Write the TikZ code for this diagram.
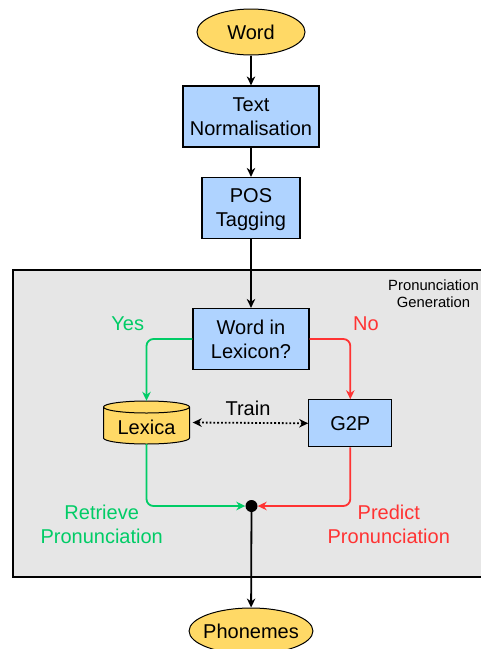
\documentclass[tikz,border=0pt]{standalone}
\usepackage{fontspec}
\setmainfont{Liberation Sans}
\usetikzlibrary{arrows.meta,shapes.geometric}

\definecolor{termfill}{HTML}{FFD966}
\definecolor{boxfill}{HTML}{AFD3FF}
\definecolor{panelfill}{HTML}{E6E6E6}
\definecolor{yesgreen}{HTML}{00CC66}
\definecolor{nored}{HTML}{FF3333}

\tikzset{
  mainfont/.style={font=\fontsize{20}{24}\selectfont},
  terminal/.style={ellipse, draw=black, line width=1pt, fill=termfill,
    inner sep=0pt, mainfont},
  procbox/.style={rectangle, draw=black, line width=1.2pt, fill=boxfill,
    align=center, inner sep=0pt, text depth=0pt, mainfont},
  flow/.style={line width=1.8pt, -{Stealth[length=9pt,width=8.5pt]}},
  label/.style={align=center, mainfont},
}

\begin{document}
\begin{tikzpicture}[x=1pt, y=-1pt]
\useasboundingbox (0,0) rectangle (481,649);
\begin{scope}
\clip (0,0) rectangle (481,649);

% panel that groups the pronunciation stage
\draw[line width=2pt, fill=panelfill] (13,270) rectangle (500,577);
\node[align=center, font=\fontsize{14.8}{17.5}\selectfont] (panel) at (433.5,293.5) {Pronunciation\\Generation};

% main column
\node[terminal, minimum width=108, minimum height=46] (word) at (251,32) {Word};
\node[procbox, minimum width=136, minimum height=61] (norm) at (251,116.5) {Text\\Normalisation};
\node[procbox, minimum width=98, minimum height=61] (pos) at (251,208) {POS\\Tagging};
\node[procbox, minimum width=116, minimum height=61] (lex) at (251,339) {Word in\\Lexicon?};
\node[procbox, minimum width=83, minimum height=47] (g2p) at (350.3,423.3) {G2P};

% lexica store drawn as a cylinder
\node[minimum width=86, minimum height=43, inner sep=0pt] (lexica) at (146.5,422.5) {};
\draw[line width=1pt, fill=termfill]
  (103.5,407) -- (103.5,438)
  arc[start angle=180, end angle=0, x radius=43, y radius=6]
  -- (189.5,407)
  arc[start angle=360, end angle=180, x radius=43, y radius=6] -- cycle;
\draw[line width=1pt] (103.5,407) arc[start angle=180, end angle=0, x radius=43, y radius=6];
\node[mainfont] (lexicatext) at (146.5,427) {Lexica};

% merge point and output
\node[circle, fill=black, inner sep=0pt, minimum size=12] (merge) at (251.5,506) {};
\node[terminal, inner xsep=-4pt, minimum width=123, minimum height=46] (phon) at (251,631) {Phonemes};

% connectors
\draw[flow] (word) -- (norm);
\draw[flow] (norm) -- (pos);
\draw[flow] (pos) -- (lex);
\draw[flow, yesgreen, rounded corners=7] (lex.west) -| (lexica.north);
\draw[flow, nored, rounded corners=7] (lex.east) -| (g2p.north);
\draw[line width=1.8pt, dotted, {Stealth[length=9pt,width=8.5pt]}-{Stealth[length=9pt,width=8.5pt]}]
  ([xshift=3]lexica.east) -- (g2p.west);
\draw[flow, yesgreen, rounded corners=7] (lexica.south) |- (merge.west);
\draw[flow, nored, rounded corners=7] (g2p.south) |- (merge.east);
\draw[flow] (merge) -- (phon);

% branch labels
\node[label, text=yesgreen] (yes) at (127.7,324) {Yes};
\node[label, text=nored] (no) at (366,324) {No};
\node[label] (train) at (248,408) {Train};
\node[label, text=yesgreen] (retrieve) at (101.7,524) {Retrieve\\Pronunciation};
\node[label, text=nored] (predict) at (388.8,524) {Predict\\Pronunciation};
\end{scope}
\end{tikzpicture}
\end{document}
